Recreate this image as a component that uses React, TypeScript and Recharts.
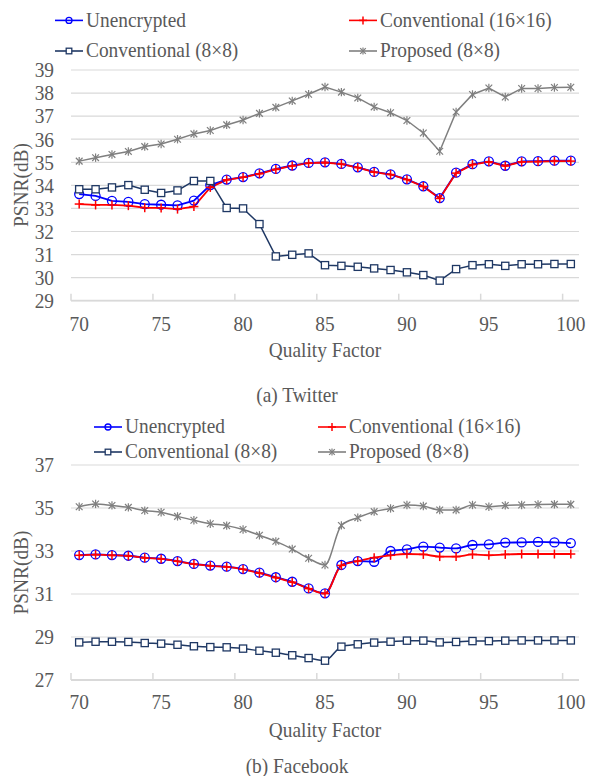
import React from "react";
import { CartesianGrid, Line, LineChart, XAxis, YAxis } from "recharts";

// quality factors 70..100
const QUALITY = [
  70, 71, 72, 73, 74, 75, 76, 77, 78, 79, 80, 81, 82, 83, 84, 85,
  86, 87, 88, 89, 90, 91, 92, 93, 94, 95, 96, 97, 98, 99, 100,
];
const X_TICKS = [70, 75, 80, 85, 90, 95, 100];

// (a) Twitter
const TW_UNENC = [
  33.62, 33.54, 33.33, 33.28, 33.19, 33.16, 33.13, 33.34, 34.01, 34.25, 34.36,
  34.52, 34.71, 34.86, 34.97, 35.0, 34.93, 34.78, 34.58, 34.48, 34.26, 33.96,
  33.45, 34.55, 34.92, 35.04, 34.85, 35.04, 35.05, 35.07, 35.07,
];
const TW_CONV16 = [
  33.19, 33.15, 33.15, 33.12, 33.03, 33.02, 32.97, 33.08, 33.91, 34.24, 34.35,
  34.5, 34.69, 34.84, 34.96, 34.99, 34.92, 34.77, 34.57, 34.47, 34.25, 33.95,
  33.43, 34.53, 34.9, 35.02, 34.84, 35.02, 35.03, 35.05, 35.05,
];
const TW_CONV8 = [
  33.83, 33.83, 33.91, 34.01, 33.81, 33.67, 33.78, 34.19, 34.19, 33.02, 33.0,
  32.32, 30.92, 30.99, 31.05, 30.54, 30.51, 30.47, 30.4, 30.33, 30.23, 30.11,
  29.87, 30.37, 30.54, 30.58, 30.51, 30.58, 30.58, 30.59, 30.59,
];
const TW_PROP = [
  35.05, 35.2, 35.34, 35.47, 35.68, 35.79, 36.0, 36.23, 36.38, 36.62, 36.83,
  37.12, 37.38, 37.66, 37.95, 38.26, 38.04, 37.79, 37.4, 37.15, 36.81, 36.27,
  35.48, 37.18, 37.94, 38.22, 37.83, 38.2, 38.2, 38.24, 38.25,
];
const TW_Y_TICKS = [29, 30, 31, 32, 33, 34, 35, 36, 37, 38, 39];

// (b) Facebook
const FB_UNENC = [
  32.81, 32.84, 32.81, 32.78, 32.69, 32.64, 32.53, 32.4, 32.32, 32.27, 32.16,
  31.99, 31.78, 31.57, 31.26, 31.03, 32.35, 32.53, 32.5, 33.0, 33.08, 33.2,
  33.16, 33.12, 33.28, 33.31, 33.39, 33.4, 33.42, 33.4, 33.37,
];
const FB_CONV16 = [
  32.8, 32.83, 32.8, 32.77, 32.68, 32.63, 32.52, 32.39, 32.31, 32.26, 32.15,
  31.97, 31.76, 31.55, 31.25, 31.02, 32.33, 32.53, 32.69, 32.8, 32.86, 32.84,
  32.74, 32.74, 32.84, 32.8, 32.84, 32.86, 32.86, 32.86, 32.86,
];
const FB_CONV8 = [
  28.75, 28.78, 28.78, 28.77, 28.72, 28.69, 28.64, 28.57, 28.53, 28.52, 28.46,
  28.36, 28.27, 28.15, 28.02, 27.9, 28.55, 28.66, 28.74, 28.78, 28.83, 28.83,
  28.75, 28.77, 28.81, 28.81, 28.83, 28.84, 28.84, 28.84, 28.84,
];
const FB_PROP = [
  35.06, 35.19, 35.12, 35.03, 34.88, 34.8, 34.61, 34.43, 34.27, 34.18, 34.0,
  33.73, 33.45, 33.09, 32.66, 32.35, 34.19, 34.55, 34.83, 34.98, 35.14, 35.09,
  34.91, 34.91, 35.14, 35.06, 35.12, 35.14, 35.16, 35.17, 35.17,
];
const FB_Y_TICKS = [27, 29, 31, 33, 35, 37];

const LABELS = {
  unenc: "Unencrypted",
  conv16: "Conventional (16×16)",
  conv8: "Conventional (8×8)",
  prop: "Proposed (8×8)",
};

const BLUE = "#0000ff";
const RED = "#ff0000";
const NAVY = "#1f3864";
const GRAY = "#7f7f7f";
const TEXT = "#595959";
const GRID = "#d9d9d9";
const FONT = "'Liberation Serif', 'Times New Roman', serif";

const PLOT_W = 508;
const HALF_STEP = PLOT_W / QUALITY.length / 2;

function buildRows(u: number[], c16: number[], c8: number[], p: number[]) {
  return QUALITY.map((q, i) => ({ q, unenc: u[i], conv16: c16[i], conv8: c8[i], prop: p[i] }));
}
const TW_ROWS = buildRows(TW_UNENC, TW_CONV16, TW_CONV8, TW_PROP);
const FB_ROWS = buildRows(FB_UNENC, FB_CONV16, FB_CONV8, FB_PROP);

// narrow serif text (the source font is a condensed Times)
function SText({ x, y, anchor = "start", rotate = 0, children }: any) {
  return (
    <text
      transform={`translate(${x},${y}) rotate(${rotate}) scale(0.88,1)`}
      textAnchor={anchor}
      fontSize={22}
      fontFamily={FONT}
      fill={TEXT}
    >
      {children}
    </text>
  );
}

// markers
function CircleMark({ cx, cy, r = 4.5 }: any) {
  return <circle cx={cx} cy={cy} r={r} fill="none" stroke={BLUE} strokeWidth={1.3} />;
}
function PlusMark({ cx, cy, s = 4.5 }: any) {
  return (
    <g stroke={RED} strokeWidth={1.5}>
      <line x1={cx - s} y1={cy} x2={cx + s} y2={cy} />
      <line x1={cx} y1={cy - s} x2={cx} y2={cy + s} />
    </g>
  );
}
function SquareMark({ cx, cy, s = 3.6 }: any) {
  return (
    <rect x={cx - s} y={cy - s} width={s * 2} height={s * 2} fill="#fff" stroke={NAVY} strokeWidth={1.3} />
  );
}
function StarMark({ cx, cy, s = 4.2 }: any) {
  const d = s * 0.8;
  return (
    <g stroke={GRAY} strokeWidth={1.2}>
      <line x1={cx} y1={cy - s} x2={cx} y2={cy + s} />
      <line x1={cx - d} y1={cy - d} x2={cx + d} y2={cy + d} />
      <line x1={cx - d} y1={cy + d} x2={cx + d} y2={cy - d} />
    </g>
  );
}

const dotOf = (Mark: any) => (p: any) =>
  p.cx == null ? <g key={p.index} /> : <Mark key={p.index} cx={p.cx} cy={p.cy} />;

function XTick({ x, y, payload, base }: any) {
  return (
    <g>
      <line x1={x - HALF_STEP} y1={y - 7} x2={x - HALF_STEP} y2={y} stroke={GRID} strokeWidth={1.5} />
      <SText x={x} y={y + base} anchor="middle">{payload.value}</SText>
    </g>
  );
}
function YTick({ x, y, payload }: any) {
  return <SText x={x - 17} y={y + 7.3} anchor="end">{payload.value}</SText>;
}

function Panel({ rows, height, margin, yTicks, base, curve }: any) {
  return (
    <LineChart width={590} height={height} data={rows} margin={margin}>
      <CartesianGrid vertical={false} stroke={GRID} strokeWidth={1.2} />
      <XAxis
        dataKey="q"
        type="number"
        domain={[69.5, 100.5]}
        ticks={X_TICKS}
        height={30}
        tickSize={0}
        tickMargin={0}
        tickLine={false}
        axisLine={{ stroke: GRID, strokeWidth: 1.8 }}
        tick={(p: any) => <XTick {...p} base={base} />}
        interval={0}
      />
      <YAxis
        type="number"
        domain={[yTicks[0], yTicks[yTicks.length - 1]]}
        ticks={yTicks}
        width={60}
        tickSize={0}
        tickMargin={0}
        axisLine={false}
        tickLine={false}
        tick={(p: any) => <YTick {...p} />}
        interval={0}
      />
      <Line type={curve} dataKey="unenc" stroke={BLUE} strokeWidth={1.8} dot={dotOf(CircleMark)} activeDot={false} isAnimationActive={false} />
      <Line type={curve} dataKey="conv16" stroke={RED} strokeWidth={1.8} dot={dotOf(PlusMark)} activeDot={false} isAnimationActive={false} />
      <Line type={curve} dataKey="conv8" stroke={NAVY} strokeWidth={1.5} dot={dotOf(SquareMark)} activeDot={false} isAnimationActive={false} />
      <Line type={curve} dataKey="prop" stroke={GRAY} strokeWidth={1.5} dot={dotOf(StarMark)} activeDot={false} isAnimationActive={false} />
    </LineChart>
  );
}

function LegendItem({ x, y, color, Mark, label, ms }: any) {
  return (
    <g>
      <line x1={x} y1={y - 6.3} x2={x + 28} y2={y - 6.3} stroke={color} strokeWidth={1.6} />
      <Mark cx={x + 14} cy={y - 6.3} {...ms} />
      <SText x={x + 31} y={y}>{label}</SText>
    </g>
  );
}

function LegendBlock({ left, right, row1, row2 }: any) {
  return (
    <g>
      <LegendItem x={left} y={row1} color={BLUE} Mark={CircleMark} ms={{ r: 3 }} label={LABELS.unenc} />
      <LegendItem x={right} y={row1} color={RED} Mark={PlusMark} ms={{ s: 4 }} label={LABELS.conv16} />
      <LegendItem x={left} y={row2} color={NAVY} Mark={SquareMark} ms={{ s: 2.8 }} label={LABELS.conv8} />
      <LegendItem x={right} y={row2} color={GRAY} Mark={StarMark} ms={{ s: 3.5 }} label={LABELS.prop} />
    </g>
  );
}

export default function App() {
  return (
    <div style={{ position: "absolute", left: 0, top: 0, width: 590, height: 776, background: "#fff" }}>
      <div style={{ position: "absolute", left: 0, top: 0 }}>
        <Panel
          rows={TW_ROWS}
          height={400}
          margin={{ top: 70, right: 11, left: 11, bottom: 69.3 }}
          yTicks={TW_Y_TICKS}
          base={30.3}
          curve="linear"
        />
      </div>
      <div style={{ position: "absolute", left: 0, top: 400 }}>
        <Panel
          rows={FB_ROWS}
          height={376}
          margin={{ top: 65, right: 11, left: 11, bottom: 66 }}
          yTicks={FB_Y_TICKS}
          base={29.3}
          curve="monotone"
        />
      </div>
      <svg
        width={590}
        height={776}
        style={{ position: "absolute", left: 0, top: 0, pointerEvents: "none" }}
      >
        <LegendBlock left={55} right={349} row1={26.7} row2={57.3} />
        <LegendBlock left={94} right={318} row1={433.3} row2={458.3} />
        <SText x={28.3} y={185} anchor="middle" rotate={-90}>PSNR(dB)</SText>
        <SText x={28.3} y={572.5} anchor="middle" rotate={-90}>PSNR(dB)</SText>
        <SText x={325} y={356.7} anchor="middle">Quality Factor</SText>
        <SText x={325} y={736.7} anchor="middle">Quality Factor</SText>
        <SText x={297} y={402} anchor="middle">(a) Twitter</SText>
        <SText x={297} y={772.7} anchor="middle">(b) Facebook</SText>
      </svg>
    </div>
  );
}
